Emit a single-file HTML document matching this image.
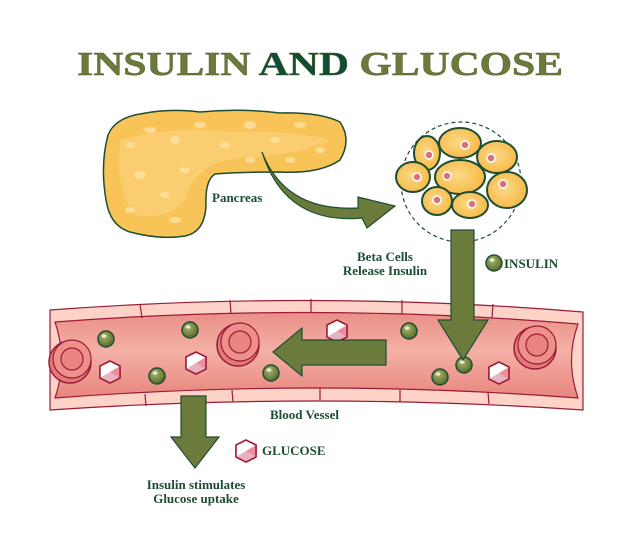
<!DOCTYPE html>
<html><head><meta charset="utf-8"><style>html,body{margin:0;padding:0;background:#fff}svg{display:block}</style></head>
<body>
<svg width="629" height="553" viewBox="0 0 629 553" xmlns="http://www.w3.org/2000/svg">
<defs>
<radialGradient id="cellg" cx="0.45" cy="0.45" r="0.6"><stop offset="0" stop-color="#fcd98a"/><stop offset="1" stop-color="#f6b942"/></radialGradient>
<radialGradient id="ins" cx="0.4" cy="0.35" r="0.6"><stop offset="0" stop-color="#a7b56c"/><stop offset="1" stop-color="#5e7132"/></radialGradient>
<linearGradient id="vess" x1="0" y1="0" x2="0" y2="1"><stop offset="0" stop-color="#e98f86"/><stop offset="0.45" stop-color="#f4b0a6"/><stop offset="1" stop-color="#e8867d"/></linearGradient>
<g id="ins1"><circle r="8" fill="url(#ins)" stroke="#1d4d32" stroke-width="1.5"/><ellipse cx="-2" cy="-3" rx="2.5" ry="1.8" fill="#e6ecc8"/></g>
<g id="cube"><polygon points="0,-11 10,-6 10,6 0,11 -10,6 -10,-6" fill="#fff" stroke="#9c1b37" stroke-width="1.5"/><polygon points="0,0 10,-6 10,6 0,11" fill="#ee8c9e"/><polygon points="0,0 0,11 -10,6 -10,-6" fill="#fff"/><polygon points="0,0 10,6 0,11 -10,6" fill="#e9b2c0"/><polygon points="0,-11 10,-6 10,6 0,11 -10,6 -10,-6" fill="none" stroke="#9c1b37" stroke-width="1.5"/></g>
<g id="rbc"><circle r="21" fill="#e27a7a" stroke="#9c1b37" stroke-width="1.5"/><circle cx="2" cy="-3" r="19" fill="#ec9089" stroke="#9c1b37" stroke-width="1.2"/><circle cx="2" cy="-3" r="11" fill="#e98580" stroke="#9c1b37" stroke-width="1.2"/></g>
</defs>

<text x="77" y="75" textLength="486" lengthAdjust="spacingAndGlyphs" font-family="Liberation Serif, serif" font-weight="bold" font-size="34" fill="#6b7b3c" stroke="#4f5e2a" stroke-width="0.5">INSULIN <tspan fill="#0f4d34">AND</tspan> GLUCOSE</text>

<!-- pancreas -->
<path d="M108,135 Q115,118 140,114 Q170,108 200,112 Q240,108 280,113 Q320,112 340,122 Q352,140 340,160 Q320,174 280,172 Q240,172 215,174 Q205,180 206,205 Q205,232 185,236 Q160,240 130,232 Q110,226 106,200 Q100,165 108,135 Z" fill="#f8c458" stroke="#1d4d32" stroke-width="1.5"/>
<path d="M120,140 Q170,125 230,132 Q290,130 330,140 Q300,155 240,158 Q195,162 185,200 Q170,220 135,215 Q115,190 120,140Z" fill="#fbd27a" opacity="0.7"/>
<g fill="#fde3a3" opacity="0.8">
<ellipse cx="130" cy="145" rx="5" ry="3"/><ellipse cx="150" cy="130" rx="6" ry="3"/><ellipse cx="175" cy="140" rx="5" ry="4"/><ellipse cx="200" cy="125" rx="6" ry="3"/><ellipse cx="225" cy="145" rx="5" ry="3"/><ellipse cx="250" cy="125" rx="6" ry="4"/><ellipse cx="275" cy="140" rx="5" ry="3"/><ellipse cx="300" cy="125" rx="6" ry="3"/><ellipse cx="320" cy="150" rx="5" ry="3"/><ellipse cx="140" cy="175" rx="6" ry="4"/><ellipse cx="165" cy="195" rx="5" ry="3"/><ellipse cx="130" cy="210" rx="5" ry="3"/><ellipse cx="185" cy="170" rx="5" ry="3"/><ellipse cx="175" cy="220" rx="6" ry="3"/><ellipse cx="250" cy="160" rx="5" ry="3"/><ellipse cx="290" cy="160" rx="5" ry="3"/>
</g>
<text x="212" y="202" font-family="Liberation Serif, serif" font-weight="bold" font-size="13" fill="#1d4d32">Pancreas</text>

<!-- curved arrow -->
<path d="M262,152 Q285,212 358,208 L358,197 L395,206 L367,228 L362,218 Q285,225 262,152 Z" fill="#6b7b3c" stroke="#1d4d32" stroke-width="1.2"/>

<!-- cell cluster -->
<circle cx="461" cy="182" r="60" fill="none" stroke="#1d4d32" stroke-width="1.2" stroke-dasharray="4,3"/>
<g stroke="#1d4d32" stroke-width="2" fill="url(#cellg)">
<ellipse cx="427" cy="153" rx="13" ry="17"/><ellipse cx="460" cy="143" rx="21" ry="15"/><ellipse cx="497" cy="157" rx="20" ry="16"/><ellipse cx="413" cy="177" rx="17" ry="15"/><ellipse cx="460" cy="177" rx="25" ry="17"/><ellipse cx="507" cy="190" rx="20" ry="18"/><ellipse cx="437" cy="201" rx="15" ry="14"/><ellipse cx="470" cy="205" rx="18" ry="13"/>
</g>
<g fill="#d9727a" stroke="#fff" stroke-width="1.5">
<circle cx="429" cy="155" r="4"/><circle cx="465" cy="145" r="4"/><circle cx="491" cy="158" r="4"/><circle cx="417" cy="177" r="4"/><circle cx="447" cy="176" r="4"/><circle cx="503" cy="184" r="4"/><circle cx="437" cy="200" r="4"/><circle cx="472" cy="204" r="4"/>
</g>

<text x="385" y="261" text-anchor="middle" font-family="Liberation Serif, serif" font-weight="bold" font-size="13" fill="#1d4d32">Beta Cells</text>
<text x="385" y="275" text-anchor="middle" font-family="Liberation Serif, serif" font-weight="bold" font-size="13" fill="#1d4d32">Release Insulin</text>
<use href="#ins1" x="494" y="263"/>
<text x="504" y="268" font-family="Liberation Serif, serif" font-weight="bold" font-size="13" fill="#1d4d32">INSULIN</text>

<!-- vessel -->
<path d="M50,310 Q316,290 583,312 L583,410 Q316,392 50,410 Z" fill="#fcd3c6" stroke="#9c1b37" stroke-width="1.2"/>
<path d="M55,322 Q316,302 578,324 Q565,360 578,398 Q316,378 55,398 Q68,360 55,322 Z" fill="url(#vess)" stroke="#9c1b37" stroke-width="1.2"/>
<g stroke="#9c1b37" stroke-width="1.2">
<line x1="140" y1="304" x2="142" y2="318"/><line x1="230" y1="300" x2="231" y2="314"/><line x1="311" y1="299" x2="311" y2="313"/><line x1="402" y1="300" x2="402" y2="314"/><line x1="493" y1="304" x2="492" y2="318"/>
<line x1="145" y1="394" x2="146" y2="406"/><line x1="232" y1="390" x2="233" y2="402"/><line x1="320" y1="388" x2="320" y2="400"/><line x1="400" y1="390" x2="400" y2="402"/><line x1="488" y1="392" x2="489" y2="404"/>
</g>
<use href="#rbc" x="70" y="362"/><use href="#rbc" x="238" y="345"/><use href="#rbc" x="535" y="348"/>
<use href="#cube" x="110" y="372"/><use href="#cube" x="196" y="363"/><use href="#cube" x="337" y="331"/><use href="#cube" x="499" y="373"/>
<use href="#ins1" x="106" y="339"/><use href="#ins1" x="190" y="330"/><use href="#ins1" x="157" y="376"/><use href="#ins1" x="271" y="373"/><use href="#ins1" x="409" y="331"/><use href="#ins1" x="440" y="377"/><use href="#ins1" x="464" y="365"/>

<!-- vertical arrow -->
<path d="M451,230 L474,230 L474,320 L488,320 L463,360 L438,320 L451,320 Z" fill="#6b7b3c" stroke="#1d4d32" stroke-width="1.2"/>
<!-- left arrow -->
<path d="M386,340 L386,365 L302,365 L302,376 L273,352 L302,328 L302,340 Z" fill="#6b7b3c" stroke="#1d4d32" stroke-width="1.2"/>
<!-- down arrow -->
<path d="M181,396 L206,396 L206,437 L219,437 L195,468 L171,437 L181,437 Z" fill="#6b7b3c" stroke="#1d4d32" stroke-width="1.2"/>

<text x="270" y="419" font-family="Liberation Serif, serif" font-weight="bold" font-size="13" fill="#1d4d32">Blood Vessel</text>
<use href="#cube" x="246" y="451"/>
<text x="262" y="455" font-family="Liberation Serif, serif" font-weight="bold" font-size="13" fill="#1d4d32">GLUCOSE</text>
<text x="196" y="489" text-anchor="middle" font-family="Liberation Serif, serif" font-weight="bold" font-size="13" fill="#1d4d32">Insulin stimulates</text>
<text x="196" y="503" text-anchor="middle" font-family="Liberation Serif, serif" font-weight="bold" font-size="13" fill="#1d4d32">Glucose uptake</text>
</svg>
</body></html>
